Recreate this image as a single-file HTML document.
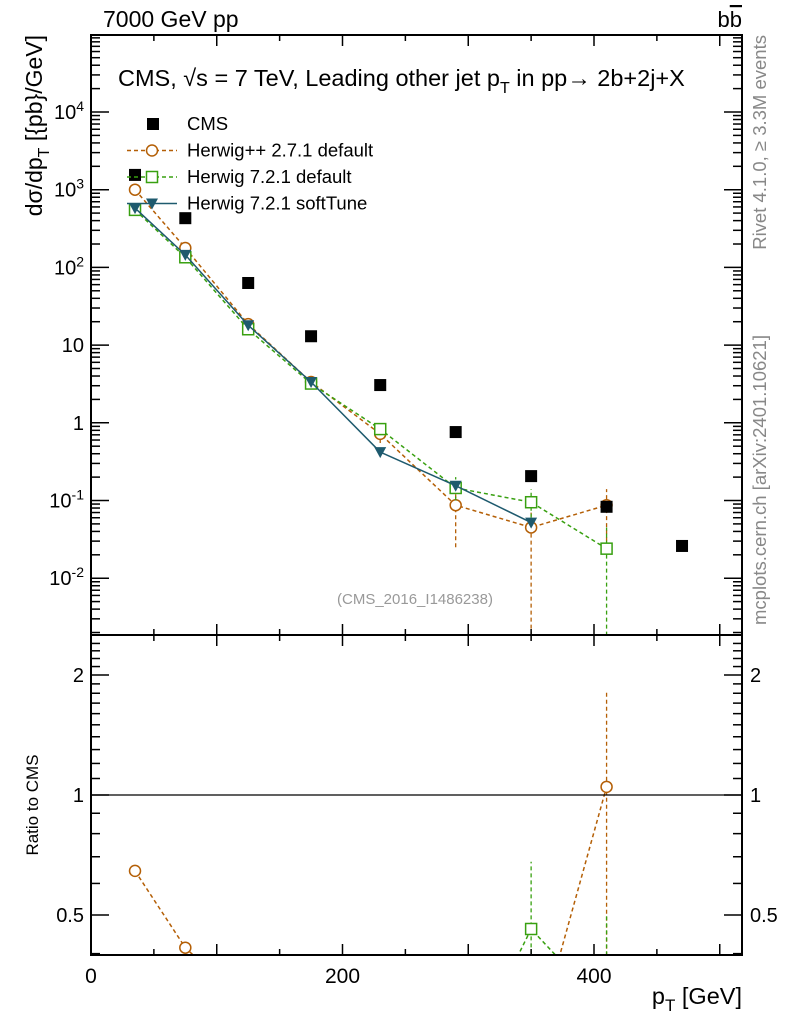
<!DOCTYPE html>
<html><head><meta charset="utf-8"><style>
html,body{margin:0;background:#fff;overflow:hidden;width:786px;height:1024px;}
svg{display:block;font-family:"Liberation Sans",sans-serif;}
</style></head><body>
<svg id="c" width="786" height="1024" xmlns="http://www.w3.org/2000/svg"></svg>
<script>
const xs=[35,75,125,175,230,290,350,410,470];
const cmsVals=[1550,430,63,13,3.06,0.76,0.206,0.083,0.026];
const hppVals=[1000,178,18.6,3.35,0.72,0.087,0.045,0.087];
const h7Vals=[550,135,16,3.2,0.83,0.145,0.095,0.024];
const softVals=[580,145,18,3.35,0.42,0.155,0.052];
const hppErrLo=[null,null,null,null,0.55,0.025,0.0001,0.03];
const hppErrHi=[null,null,null,null,0.9,0.15,0.07,0.14];
const h7ErrLo=[null,null,null,null,null,0.1,0.06,0.0001];
const h7ErrHi=[null,null,null,null,null,0.2,0.14,0.045];
const xTicks=[0,200,400];
const yTickExp=[-2,-1,0,1,2,3,4];
const yTickLabels=["10^-2","10^-1","1","10","10^2","10^3","10^4"];
const rTicks=[0.5,1,2];

const S=document.getElementById('c');const NS='http://www.w3.org/2000/svg';
function el(t,a,p){const e=document.createElementNS(NS,t);for(const k in a)e.setAttribute(k,a[k]);(p||S).appendChild(e);return e;}
const L=91,R=742,T=35,M=635,B=955;
const X=v=>L+v*1.2575;
const Y=v=>112-(Math.log10(v)-4)*77.7;
const RY=v=>795-Math.log2(v)*120;
const C={hpp:'#b45f06',h7:'#38a010',soft:'#1e5a6e'};
const defs=el('defs',{});
const c1=el('clipPath',{id:'cm'},defs);el('rect',{x:L,y:T,width:R-L,height:M-T},c1);
const c2=el('clipPath',{id:'cr'},defs);el('rect',{x:L,y:M,width:R-L,height:B-M},c2);
const gm=el('g',{'clip-path':'url(#cm)'});
const gr=el('g',{'clip-path':'url(#cr)'});
let f=el('rect',{x:L,y:T,width:R-L,height:M-T,fill:'none',stroke:'#000','stroke-width':2});

f=el('rect',{x:L,y:M,width:R-L,height:B-M,fill:'none',stroke:'#000','stroke-width':2});

for(let v=0;v<=500;v+=50){const big=v%100==0;const l=big?11:6;const x=X(v);
 for(const [y0,d] of [[M,-1],[T,1],[B,-1],[M,1]]) el('line',{x1:x,x2:x,y1:y0,y2:y0+d*l,stroke:'#000','stroke-width':1.5});}
xTicks.forEach(v=>{const t=el('text',{x:X(v),y:983,'font-size':21,'text-anchor':'middle'});t.textContent=v;
 });
for(let e=-3;e<=4;e++){for(let m=1;m<10;m++){const v=m*Math.pow(10,e);const y=Y(v);if(y<T||y>M)continue;const l=m==1?18:9;
 el('line',{x1:L,x2:L+l,y1:y,y2:y,stroke:'#000','stroke-width':1.5});el('line',{x1:R,x2:R-l,y1:y,y2:y,stroke:'#000','stroke-width':1.5});}}
yTickExp.forEach((e,i)=>{const y=Y(Math.pow(10,e))+7;const t=el('text',{x:84,y:y,'font-size':20,'text-anchor':'end'});
 const lb=yTickLabels[i];if(lb.includes('^')){const [b,p]=lb.split('^');t.textContent=b;const ts=el('tspan',{dy:-8,'font-size':14},t);ts.textContent=p;}else t.textContent=lb;
 });
for(let v=0.4;v<=2.5;v+=0.1){const y=RY(v);if(y<M||y>B)continue;const big=Math.abs(v-0.5)<1e-6||Math.abs(v-1)<1e-6||Math.abs(v-2)<1e-6;const l=big?18:9;
 el('line',{x1:L,x2:L+l,y1:y,y2:y,stroke:'#000','stroke-width':1.5});el('line',{x1:R,x2:R-l,y1:y,y2:y,stroke:'#000','stroke-width':1.5});}
rTicks.forEach(v=>{for(const [x,a] of [[84,'end'],[750,'start']]){const t=el('text',{x:x,y:RY(v)+7,'font-size':20,'text-anchor':a});t.textContent=v;
 }});
el('line',{x1:L,x2:R,y1:RY(1),y2:RY(1),stroke:'#000','stroke-width':1.3});
function series(vals,col,dash,marker,lo,hi,g,yf,name){
 const pts=vals.map((v,i)=>[X(xs[i]),yf(v)]);
 const pl=el('polyline',{points:pts.map(p=>p.join(',')).join(' '),fill:'none',stroke:col,'stroke-width':1.5,'stroke-dasharray':dash||'none'},g);
 
 if(lo)vals.forEach((v,i)=>{if(lo[i]==null)return;el('line',{x1:X(xs[i]),x2:X(xs[i]),y1:yf(lo[i]),y2:yf(hi[i]),stroke:col,'stroke-width':1.3,'stroke-dasharray':dash||'none'},g);});
 pts.forEach(p=>{let m;
  if(marker=='o')m=el('circle',{cx:p[0],cy:p[1],r:5.5,fill:'#fff',stroke:col,'stroke-width':1.5},g);
  else if(marker=='s')m=el('rect',{x:p[0]-5.5,y:p[1]-5.5,width:11,height:11,fill:'#fff',stroke:col,'stroke-width':1.5},g);
  else m=el('polygon',{points:`${p[0]-6},${p[1]-5} ${p[0]+6},${p[1]-5} ${p[0]},${p[1]+6}`,fill:col},g);
  });
}
series(hppVals,C.hpp,'4,3','o',hppErrLo,hppErrHi,gm,Y,'herwigpp-271');
series(h7Vals,C.h7,'4,3','s',h7ErrLo,h7ErrHi,gm,Y,'herwig-721-default');
series(softVals,C.soft,null,'v',null,null,gm,Y,'herwig-721-softtune');
cmsVals.forEach((v,i)=>{const r=el('rect',{x:X(xs[i])-6,y:Y(v)-6,width:12,height:12,fill:'#000'},gm);
 });
const rat=a=>a.map((v,i)=>v/cmsVals[i]);
series(rat(hppVals),C.hpp,'4,3','o',[null,null,null,null,null,null,null,0.35],[null,null,null,null,null,null,null,1.83],gr,RY,'ratio-herwigpp');
series(rat(h7Vals),C.h7,'4,3','s',[null,null,null,null,null,null,0.3,0.01],[null,null,null,null,null,null,0.68,0.5],gr,RY,'ratio-herwig721');
series(rat(softVals),C.soft,null,'v',null,null,gr,RY,'ratio-softtune');
function tx(s,x,y,sz,a,name,extra){const t=el('text',Object.assign({x:x,y:y,'font-size':sz,'text-anchor':a||'start'},extra||{}));t.innerHTML=s;
 return t;}
tx('7000 GeV pp',103,27,23,'start','header-left');
tx('b<tspan style="text-decoration:overline">b</tspan>',742,27,22,'end','header-right');
tx('CMS, √s = 7 TeV, Leading other jet p<tspan dy="7" font-size="16">T</tspan><tspan dy="-7"> in pp→  2b+2j+X</tspan>',118,86,23.5,'start','plot-title');
tx('(CMS_2016_I1486238)',415,604,15,'middle','analysis-id',{fill:'#999'});
tx('p<tspan dy="7" font-size="17">T</tspan><tspan dy="-7"> [GeV]</tspan>',742,1004,23.5,'end','x-axis-title');
tx('dσ/dp<tspan dy="7" font-size="16">T</tspan><tspan dy="-7"> [{pb}/GeV]</tspan>',0,0,23,'end','y-axis-title',{transform:'translate(42,35) rotate(-90)'});
tx('Ratio to CMS',0,0,17,'middle','ratio-y-axis-title',{transform:'translate(38,805) rotate(-90)'});
tx('Rivet 4.1.0, ≥ 3.3M events',0,0,18.5,'end','rivet-label',{transform:'translate(766,35) rotate(-90)',fill:'#888'});
tx('mcplots.cern.ch [arXiv:2401.10621]',0,0,18.5,'end','mcplots-label',{transform:'translate(766,335) rotate(-90)',fill:'#888'});
const lg=[['CMS',null,'cms'],['Herwig++ 2.7.1 default',C.hpp,'o'],['Herwig 7.2.1 default',C.h7,'s'],['Herwig 7.2.1 softTune',C.soft,'v']];
lg.forEach((e,i)=>{const y=124+i*26.5;const g=el('g',{});
 if(e[2]=='cms')el('rect',{x:147,y:y-6,width:12,height:12,fill:'#000'},g);
 else{el('line',{x1:127,x2:177,y1:y,y2:y,stroke:e[1],'stroke-width':1.5,'stroke-dasharray':e[2]=='v'?'none':'4,3'},g);
  if(e[2]=='o')el('circle',{cx:152,cy:y,r:5.5,fill:'#fff',stroke:e[1],'stroke-width':1.5},g);
  else if(e[2]=='s')el('rect',{x:146.5,y:y-5.5,width:11,height:11,fill:'#fff',stroke:e[1],'stroke-width':1.5},g);
  else el('polygon',{points:`146,${y-5} 158,${y-5} 152,${y+6}`,fill:e[1]},g);}
 const t=el('text',{x:187,y:y+6,'font-size':18.5},g);t.textContent=e[0];});
</script>
</body></html>
